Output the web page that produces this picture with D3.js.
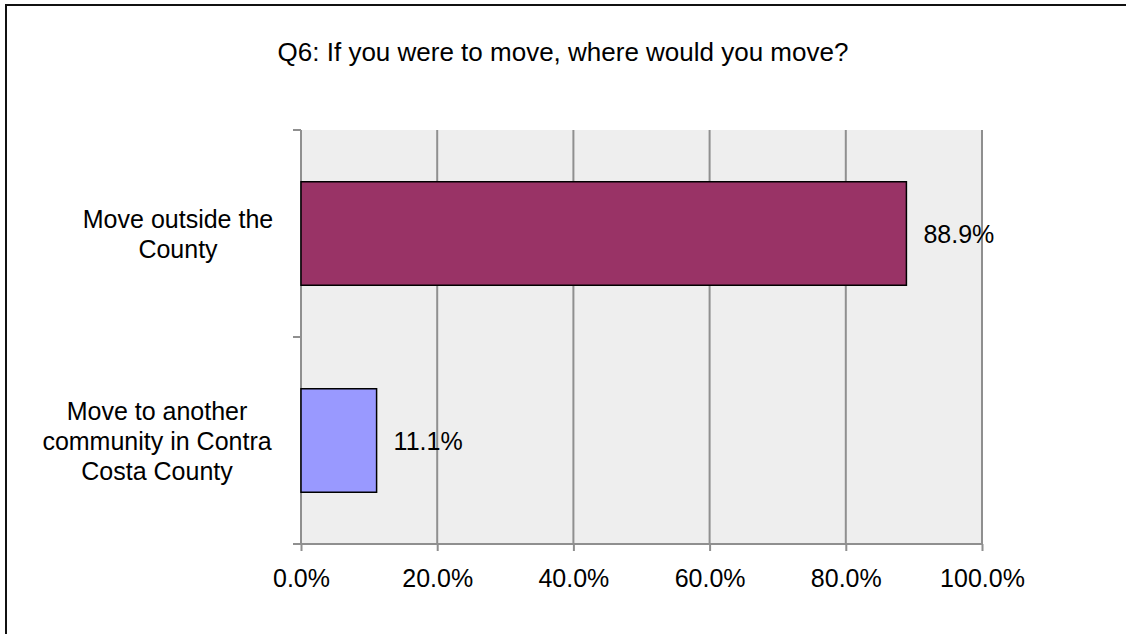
<!DOCTYPE html>
<html><head><meta charset="utf-8">
<script src="https://cdn.jsdelivr.net/npm/d3@7"></script>
<style>body{margin:0;background:#fff}svg{display:block}text{font-family:"Liberation Sans",Arial,sans-serif;fill:#000}</style>
</head><body>
<script>
const categories = [["Move outside the","County"],["Move to another","community in Contra","Costa County"]];
const values = [0.889, 0.111];
const valueLabels = ["88.9%","11.1%"];
const colors = ["#993366","#9999FF"];
const ticks = [0,0.2,0.4,0.6,0.8,1.0];
const title = "Q6: If you were to move, where would you move?";

const W=1126,H=634;
const svg=d3.select("body").append("svg").attr("width",W).attr("height",H);
svg.append("rect").attr("x",6).attr("y",5).attr("width",1200).attr("height",800).attr("fill","none").attr("stroke","#111").attr("stroke-width",2);

const L=301,R=982,T=130,B=544;
const x=d3.scaleLinear().domain([0,1]).range([L,R]);
const y=d3.scaleBand().domain(d3.range(categories.length)).range([T,B]).paddingInner(0.5).paddingOuter(0.25);
const yb=d3.scaleBand().domain(d3.range(categories.length)).range([T,B]);
const labelX=[178,157];

svg.append("rect").attr("x",L).attr("y",T).attr("width",R-L).attr("height",B-T).attr("fill","#EEEEEE");
svg.selectAll(".grid").data(ticks.slice(1)).enter().append("line")
 .attr("x1",d=>x(d)).attr("x2",d=>x(d)).attr("y1",T).attr("y2",B).attr("stroke","#8f8f8f").attr("stroke-width",2);

// bottom axis
const xa=svg.append("g").attr("transform",`translate(0,${B})`).call(d3.axisBottom(x).tickValues(ticks).tickSize(7).tickFormat(d3.format(".1%")));
xa.select(".domain").attr("d",`M${L-8},0H${R}`).attr("stroke","#8f8f8f").attr("stroke-width",2);
xa.selectAll(".tick line").attr("stroke","#8f8f8f").attr("stroke-width",2);
xa.selectAll(".tick text").attr("font-size",25).attr("y",43).attr("dy",0).attr("font-family","Liberation Sans, Arial, sans-serif").attr("fill","#000");
// left axis
const ya=svg.append("g").attr("transform",`translate(${L},0)`).call(d3.axisLeft(yb).tickValues([]).tickSize(0));
ya.select(".domain").attr("d",`M0,${T}V${B}`).attr("stroke","#8f8f8f").attr("stroke-width",2);
svg.selectAll(".ytick").data([T,...yb.domain().map(d=>yb(d)+yb.bandwidth())]).enter().append("line")
 .attr("x1",L-8).attr("x2",L).attr("y1",d=>d).attr("y2",d=>d).attr("stroke","#8f8f8f").attr("stroke-width",2);

svg.selectAll(".bar").data(values).enter().append("rect")
 .attr("x",x(0)).attr("y",(d,i)=>y(i)).attr("width",d=>x(d)-x(0)).attr("height",y.bandwidth())
 .attr("fill",(d,i)=>colors[i]).attr("stroke","#000").attr("stroke-width",1.5);

svg.selectAll(".vl").data(values).enter().append("text")
 .attr("x",d=>x(d)+17).attr("y",(d,i)=>y(i)+y.bandwidth()/2).attr("dy","0.38em")
 .attr("font-size",25).text((d,i)=>valueLabels[i]);

categories.forEach((lines,i)=>{
  const cy=y(i)+y.bandwidth()/2;
  const n=lines.length, lh=30;
  lines.forEach((s,j)=>{
    svg.append("text").attr("x",labelX[i]).attr("y",cy+(j-(n-1)/2)*lh).attr("dy","0.36em")
      .attr("text-anchor","middle").attr("font-size",25).text(s);
  });
});

svg.append("text").attr("x",563).attr("y",61).attr("text-anchor","middle").attr("font-size",26).text(title);
</script>
</body></html>
